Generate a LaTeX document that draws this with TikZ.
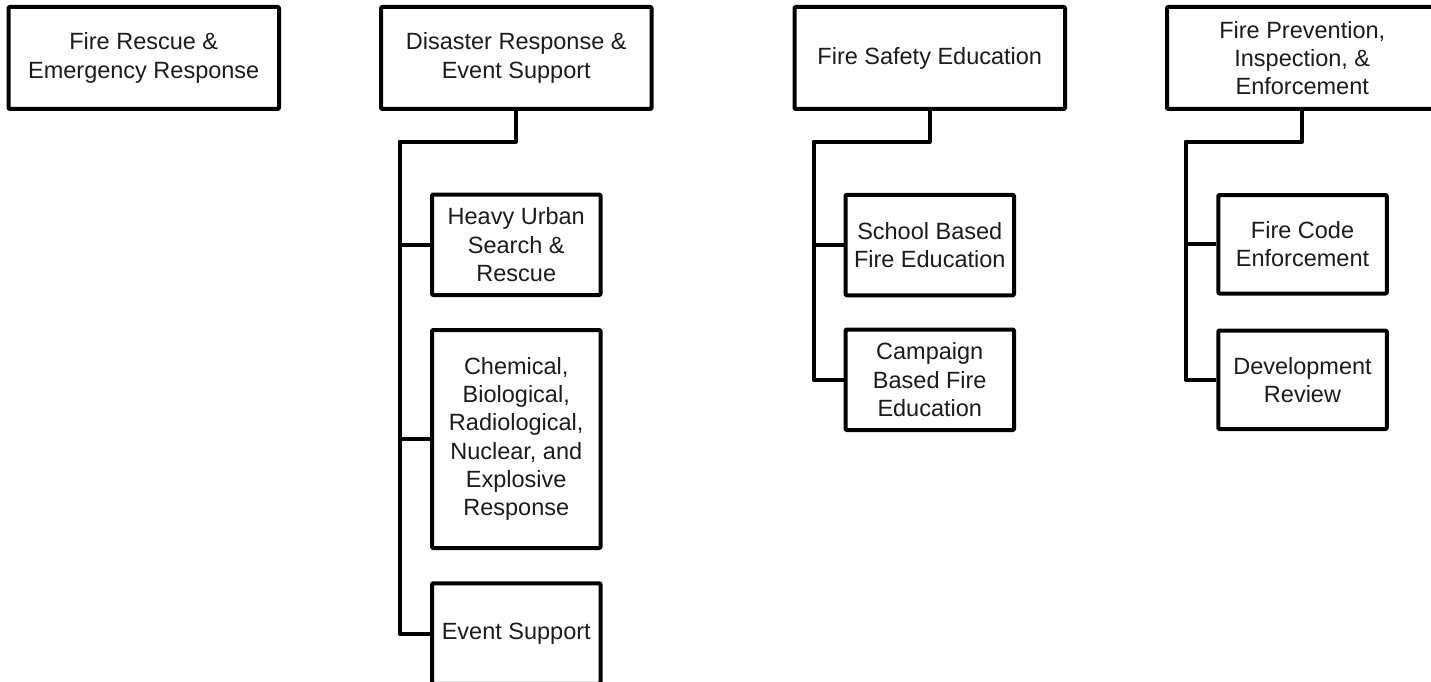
\documentclass[tikz,border=0pt]{standalone}
\usepackage{fontspec}
\setmainfont{Liberation Sans}
\definecolor{inkc}{RGB}{28,28,28}
\begin{document}
\begin{tikzpicture}[x=1pt,y=-1pt,
  box/.style={draw=black, line width=4pt, line join=round, rounded corners=1pt,
    fill=white, align=center, inner sep=0pt, text=inkc,
    font=\fontsize{23.5}{28.3}\selectfont},
  headbox/.style={box, minimum width=270.5pt, minimum height=102pt},
  subbox/.style={box, minimum width=168.5pt, minimum height=100.5pt},
  wire/.style={draw=black, line width=4pt, line join=round}]
\useasboundingbox (0,0) rectangle (1431,682);
\fill[white] (0,0) rectangle (1431,682);
\clip (0,0) rectangle (1431,682);

% top-level services
\node[headbox] (fre) at (143.75,58) {Fire Rescue \&\\Emergency Response};
\node[headbox] (drs) at (516.25,58) {Disaster Response \&\\Event Support};
\node[headbox] (fse) at (929.75,58) {Fire Safety Education};
\node[headbox] (fpi) at (1302.25,58) {Fire Prevention,\\Inspection, \&\\Enforcement};

% disaster response branch
\node[subbox] (usr) at (516.25,244.75) {Heavy Urban\\Search \&\\Rescue};
\node[subbox, minimum height=218pt] (cbr) at (516.25,439) {Chemical,\\Biological,\\Radiological,\\Nuclear, and\\Explosive\\Response};
\node[subbox] (evs) at (516.25,633.5) {Event Support};

% education branch
\node[subbox] (sbe) at (929.75,245) {School Based\\Fire Education};
\node[subbox] (cbe) at (929.75,379.75) {Campaign\\Based Fire\\Education};

% prevention branch
\node[subbox, minimum height=98.5pt] (fce) at (1302.5,244.25) {Fire Code\\Enforcement};
\node[subbox, minimum height=98.5pt] (dvr) at (1302.5,379.75) {Development\\Review};

% trunk corners
\coordinate (t2) at (399.5,141.5);
\coordinate (t3) at (813.5,141.5);
\coordinate (t4) at (1185.5,141.5);

% connectors
\draw[wire] (drs.south) |- (t2) |- (evs.west);
\draw[wire] (t2 |- usr.west) -- (usr.west);
\draw[wire] (t2 |- cbr.west) -- (cbr.west);

\draw[wire] (fse.south) |- (t3) |- (cbe.west);
\draw[wire] (t3 |- sbe.west) -- (sbe.west);

\draw[wire] (fpi.south) |- (t4) |- (dvr.west);
\draw[wire] (t4 |- fce.west) -- (fce.west);
\end{tikzpicture}
\end{document}
